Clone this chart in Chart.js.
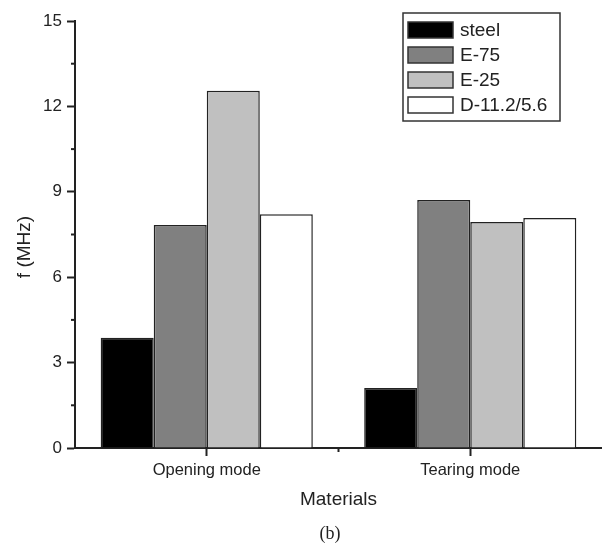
<!DOCTYPE html>
<html>
<head>
<meta charset="utf-8">
<script src="https://cdn.jsdelivr.net/npm/chart.js@4"></script>
<style>
  html, body { margin: 0; padding: 0; background: #fff; }
  #wrap { width: 602px; height: 543px; }
</style>
</head>
<body>
<div id="wrap"><canvas id="myChart" width="602" height="543"></canvas></div>
<script>
// data
const modes = ['Opening mode', 'Tearing mode'];
const materials = ['steel', 'E-75', 'E-25', 'D-11.2/5.6'];
const steel = [3.87, 2.11];
const e75 = [7.83, 8.71];
const e25 = [12.55, 7.94];
const d112 = [8.21, 8.08];
const yTicks = [0, 3, 6, 9, 12, 15];

const fills = ['#000000', '#808080', '#c0c0c0', '#ffffff'];
const sans = 'Liberation Sans, Arial, sans-serif';
const ink = '#222';

// minor ticks, y title, legend box and the "(b)" caption
const extras = {
    id: 'extras',
    afterDraw(chart) {
        const c = chart.ctx;
        const x = chart.scales.x, y = chart.scales.y;
        c.save();
        c.strokeStyle = ink;
        c.lineWidth = 2;
        // y minor ticks
        for (let i = 0; i < yTicks.length - 1; i++) {
            const py = y.getPixelForValue((yTicks[i] + yTicks[i + 1]) / 2);
            c.beginPath();
            c.moveTo(x.left - 4, py);
            c.lineTo(x.left, py);
            c.stroke();
        }
        // x minor tick between categories
        const px = (x.getPixelForValue(0) + x.getPixelForValue(1)) / 2;
        c.beginPath();
        c.moveTo(px, y.bottom);
        c.lineTo(px, y.bottom + 4);
        c.stroke();

        // y title (sits a bit below the axis middle in the original)
        c.save();
        c.translate(25, 247);
        c.rotate(-Math.PI / 2);
        c.font = '19px ' + sans;
        c.fillStyle = ink;
        c.textAlign = 'center';
        c.textBaseline = 'middle';
        c.fillText('f (MHz)', 0, 0);
        c.restore();

        // legend
        c.lineWidth = 1.5;
        c.strokeStyle = '#333';
        c.strokeRect(403, 13, 157, 108);
        c.font = '19px ' + sans;
        c.textBaseline = 'middle';
        chart.data.datasets.forEach((ds, i) => {
            const cy = 30 + i * 25;
            c.fillStyle = ds.backgroundColor;
            c.fillRect(408, cy - 8, 45, 16);
            c.strokeStyle = '#333';
            c.strokeRect(408, cy - 8, 45, 16);
            c.fillStyle = ink;
            c.fillText(ds.label, 460, cy + 1);
        });

        c.font = '18px Liberation Serif, Times New Roman, serif';
        c.textAlign = 'center';
        c.fillStyle = ink;
        c.fillText('(b)', 330, 534);
        c.restore();
    }
};

const ctx = document.getElementById('myChart');
new Chart(ctx, {
    type: 'bar',
    data: {
        labels: modes,
        datasets: [steel, e75, e25, d112].map((vals, i) => ({
            label: materials[i],
            data: vals,
            backgroundColor: fills[i],
            borderColor: ink,
            borderWidth: 1.5,
            barPercentage: 1,
            categoryPercentage: 0.805
        }))
    },
    options: {
        responsive: false,
        animation: false,
        layout: { padding: { top: 21, right: 0, left: 0, bottom: 0 } },
        plugins: {
            legend: { display: false },
            tooltip: { enabled: false }
        },
        scales: {
            x: {
                afterFit(scale) { scale.height = 95; },
                grid: {
                    offset: false,
                    drawOnChartArea: false,
                    tickLength: 8,
                    tickWidth: 2,
                    tickColor: ink
                },
                border: { color: ink, width: 2 },
                ticks: {
                    color: ink,
                    padding: 5,
                    font: { size: 16.5, family: sans }
                },
                title: {
                    display: true,
                    text: 'Materials',
                    color: ink,
                    padding: { top: 0, bottom: 32 },
                    font: { size: 19, family: sans }
                }
            },
            y: {
                min: 0,
                max: 15,
                afterFit(scale) { scale.width = 75; },
                afterBuildTicks(scale) { scale.ticks = yTicks.map(v => ({ value: v })); },
                grid: {
                    drawOnChartArea: false,
                    tickLength: 8,
                    tickWidth: 2,
                    tickColor: ink
                },
                border: { color: ink, width: 2 },
                ticks: {
                    color: ink,
                    padding: 5,
                    font: { size: 17, family: sans }
                }
            }
        }
    },
    plugins: [extras]
});
</script>
</body>
</html>
